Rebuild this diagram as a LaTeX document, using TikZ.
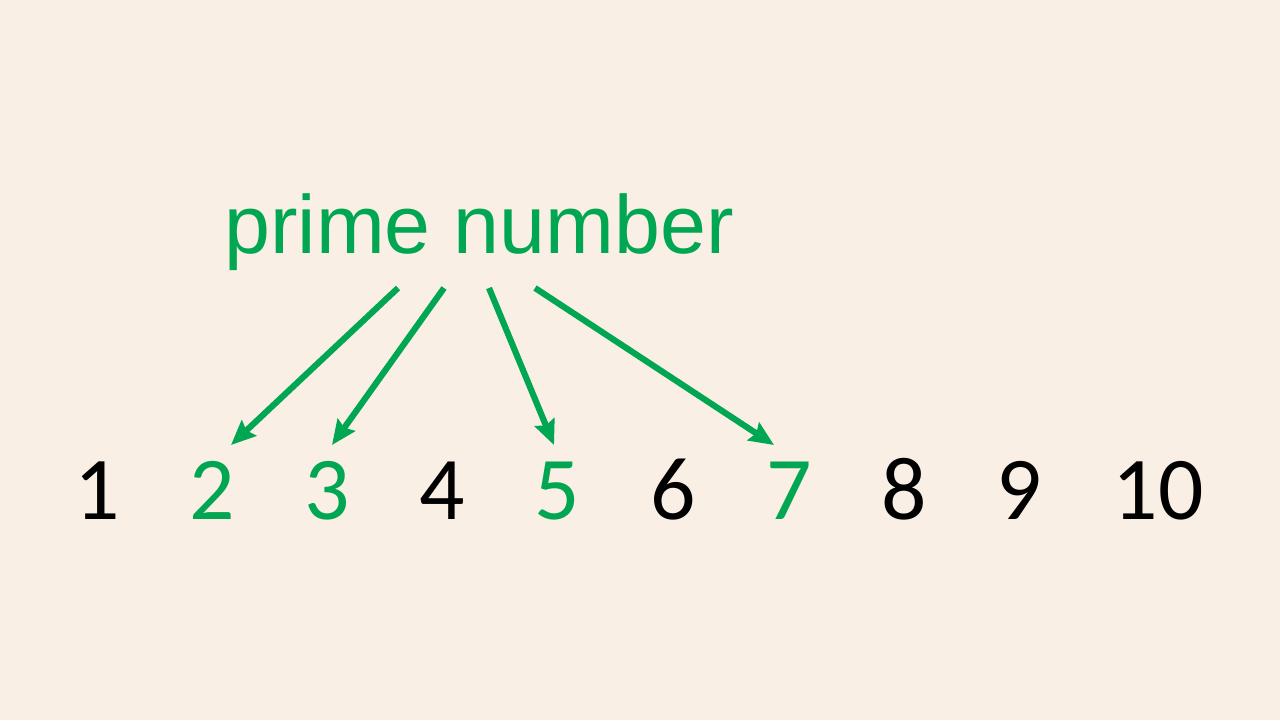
\documentclass[tikz,border=0pt]{standalone}
\usepackage{fontspec}
\usetikzlibrary{arrows.meta}
\newfontfamily\numfont{Carlito}
\newfontfamily\wordfont{Liberation Sans}
\definecolor{bgcream}{RGB}{249,239,229}
\definecolor{primegreen}{RGB}{0,166,81}
\begin{document}
\begin{tikzpicture}[x=0.02cm,y=-0.02cm,>={Stealth[length=14pt,width=12pt,inset=2pt]}]
	\tikzstyle{num}=[anchor=base,inner sep=0pt,font=\numfont\fontsize{51}{60}\selectfont]
	\tikzstyle{prime}=[num,text=primegreen]
	\tikzstyle{pointer}=[->,draw=primegreen,line width=3.5pt]

	\fill[bgcream] (0,0) rectangle (1280,720);
	\useasboundingbox (0,0) rectangle (1280,720);

	\node[anchor=base,inner sep=0pt,text=primegreen,font=\wordfont\fontsize{47}{56}\selectfont](label) at (479,253){prime number};

	\node[num](n1) at (97,519){1};
	\node[prime](n2) at (212,519){2};
	\node[prime](n3) at (327,519){3};
	\node[num](n4) at (442,519){4};
	\node[prime](n5) at (557,519){5};
	\node[num](n6) at (673,519){6};
	\node[prime](n7) at (789,519){7};
	\node[num](n8) at (904,519){8};
	\node[num](n9) at (1019,519){9};
	\node[num](n10) at (1158,519){10};

	% arrow ends, just above the primes
	\coordinate (s2) at (398,288);
	\coordinate (s3) at (444,288);
	\coordinate (s5) at (489,288);
	\coordinate (s7) at (535,288);
	\coordinate (t2) at (231,445);
	\coordinate (t3) at (332,445);
	\coordinate (t5) at (554,445);
	\coordinate (t7) at (774,445);

	\draw[pointer] (s2) -- (t2);
	\draw[pointer] (s3) -- (t3);
	\draw[pointer] (s5) -- (t5);
	\draw[pointer] (s7) -- (t7);
\end{tikzpicture}
\end{document}
